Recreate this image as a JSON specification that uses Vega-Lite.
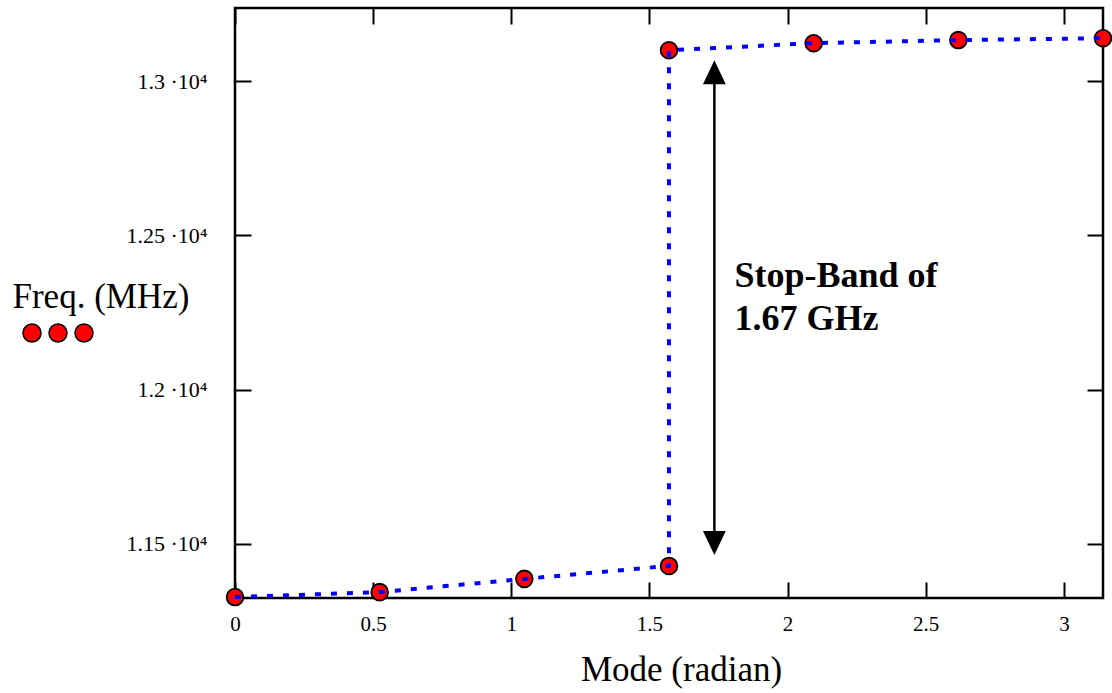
{
  "$schema": "https://vega.github.io/schema/vega-lite/v6.json",
  "width": 868,
  "height": 590,
  "autosize": "none",
  "padding": {"left": 235, "top": 8, "right": 9, "bottom": 95},
  "background": "white",
  "config": {
    "view": {"stroke": "black", "strokeWidth": 2.5},
    "font": "Liberation Serif",
    "axis": {
      "domain": false,
      "grid": false,
      "tickColor": "black",
      "tickWidth": 2,
      "tickSize": -16,
      "labelFont": "Liberation Serif",
      "labelColor": "black",
      "titleFont": "Liberation Serif",
      "titleColor": "black",
      "titleFontWeight": "normal"
    }
  },
  "datasets": {
    "curve": [
      {"i": 0, "mode": 0, "freq": 11328},
      {"i": 1, "mode": 0.5236, "freq": 11344},
      {"i": 2, "mode": 1.0472, "freq": 11387},
      {"i": 3, "mode": 1.5708, "freq": 11429},
      {"i": 4, "mode": 1.5708, "freq": 13100},
      {"i": 5, "mode": 2.0944, "freq": 13123},
      {"i": 6, "mode": 2.618, "freq": 13133},
      {"i": 7, "mode": 3.1416, "freq": 13139}
    ],
    "shaft": [
      {"mode": 1.735, "lo": 11503, "hi": 13029}
    ],
    "heads": [
      {"mode": 1.735, "freq": 13029, "dir": "up"},
      {"mode": 1.735, "freq": 11503, "dir": "down"}
    ],
    "note": [
      {"mode": 1.808, "freq": 12333, "label": "Stop-Band of\n1.67 GHz"}
    ]
  },
  "resolve": {"axis": {"x": "independent", "y": "independent"}},
  "layer": [
    {
      "data": {"name": "curve"},
      "mark": {"type": "point", "filled": true, "stroke": "black", "strokeWidth": 1.8, "size": 280, "shape": "circle", "opacity": 1},
      "encoding": {
        "x": {
          "field": "mode", "type": "quantitative",
          "scale": {"domain": [0, 3.1416], "nice": false, "zero": false},
          "axis": {
            "orient": "bottom",
            "values": [0, 0.5, 1, 1.5, 2, 2.5, 3],
            "labelExpr": "'' + datum.value",
            "labelFontSize": 21,
            "labelPadding": 31,
            "labelFlush": false,
            "title": "Mode (radian)",
            "titleFontSize": 35,
            "titleX": 446,
            "titleY": 82,
            "titleAlign": "center",
            "titleBaseline": "alphabetic",
            "titleAnchor": null
          }
        },
        "y": {
          "field": "freq", "type": "quantitative",
          "scale": {"domain": [11325, 13237], "nice": false, "zero": false},
          "axis": {
            "orient": "left",
            "values": [11500, 12000, 12500, 13000],
            "labelExpr": "'' + (datum.value / 10000) + ' ·10⁴'",
            "labelFontSize": 22,
            "labelPadding": 44,
            "labelFlush": false,
            "title": "Freq. (MHz)",
            "titleFontSize": 35,
            "titleAngle": 0,
            "titleX": -223,
            "titleY": 299,
            "titleAlign": "left",
            "titleBaseline": "alphabetic",
            "titleAnchor": null
          }
        },
        "fill": {
          "datum": "trace",
          "type": "nominal",
          "scale": {"domain": ["trace"], "range": ["#ff0000"]},
          "legend": {
            "orient": "none",
            "legendX": -213,
            "legendY": 289,
            "padding": 0,
            "title": null,
            "labelExpr": "''",
            "symbolType": "M-1,0A0.257,0.257 0 1 1 -0.486,0A0.257,0.257 0 1 1 -1,0Z M-0.257,0A0.257,0.257 0 1 1 0.257,0A0.257,0.257 0 1 1 -0.257,0Z M0.486,0A0.257,0.257 0 1 1 1,0A0.257,0.257 0 1 1 0.486,0Z",
            "symbolSize": 4900,
            "symbolStrokeColor": "black",
            "symbolStrokeWidth": 1.5,
            "symbolOpacity": 1
          }
        }
      }
    },
    {
      "data": {"name": "curve"},
      "mark": {"type": "line", "color": "#0000ff", "strokeWidth": 4, "strokeDash": [6, 10]},
      "encoding": {
        "x": {
          "field": "mode", "type": "quantitative",
          "axis": {
            "orient": "top",
            "values": [0, 0.5, 1, 1.5, 2, 2.5, 3],
            "labels": false,
            "title": null
          }
        },
        "y": {
          "field": "freq", "type": "quantitative",
          "axis": {
            "orient": "right",
            "values": [11500, 12000, 12500, 13000],
            "labels": false,
            "title": null
          }
        },
        "order": {"field": "i", "type": "quantitative"}
      }
    },
    {
      "data": {"name": "shaft"},
      "mark": {"type": "rule", "color": "black", "strokeWidth": 2.5},
      "encoding": {
        "x": {"field": "mode", "type": "quantitative", "axis": null},
        "y": {"field": "lo", "type": "quantitative", "axis": null},
        "y2": {"field": "hi"}
      }
    },
    {
      "data": {"name": "heads"},
      "mark": {"type": "point", "filled": true, "color": "black", "size": 576, "opacity": 1},
      "encoding": {
        "x": {"field": "mode", "type": "quantitative", "axis": null},
        "y": {"field": "freq", "type": "quantitative", "axis": null},
        "shape": {
          "field": "dir", "type": "nominal",
          "scale": {"domain": ["up", "down"], "range": ["M0,-1L0.95,1L-0.95,1Z", "M0,1L0.95,-1L-0.95,-1Z"]},
          "legend": null
        }
      }
    },
    {
      "data": {"name": "note"},
      "mark": {"type": "text", "font": "Liberation Serif", "fontWeight": "bold", "fontSize": 36, "align": "left", "baseline": "alphabetic", "lineBreak": "\n", "lineHeight": 43, "color": "black"},
      "encoding": {
        "x": {"field": "mode", "type": "quantitative", "axis": null},
        "y": {"field": "freq", "type": "quantitative", "axis": null},
        "text": {"field": "label", "type": "nominal"}
      }
    }
  ]
}
